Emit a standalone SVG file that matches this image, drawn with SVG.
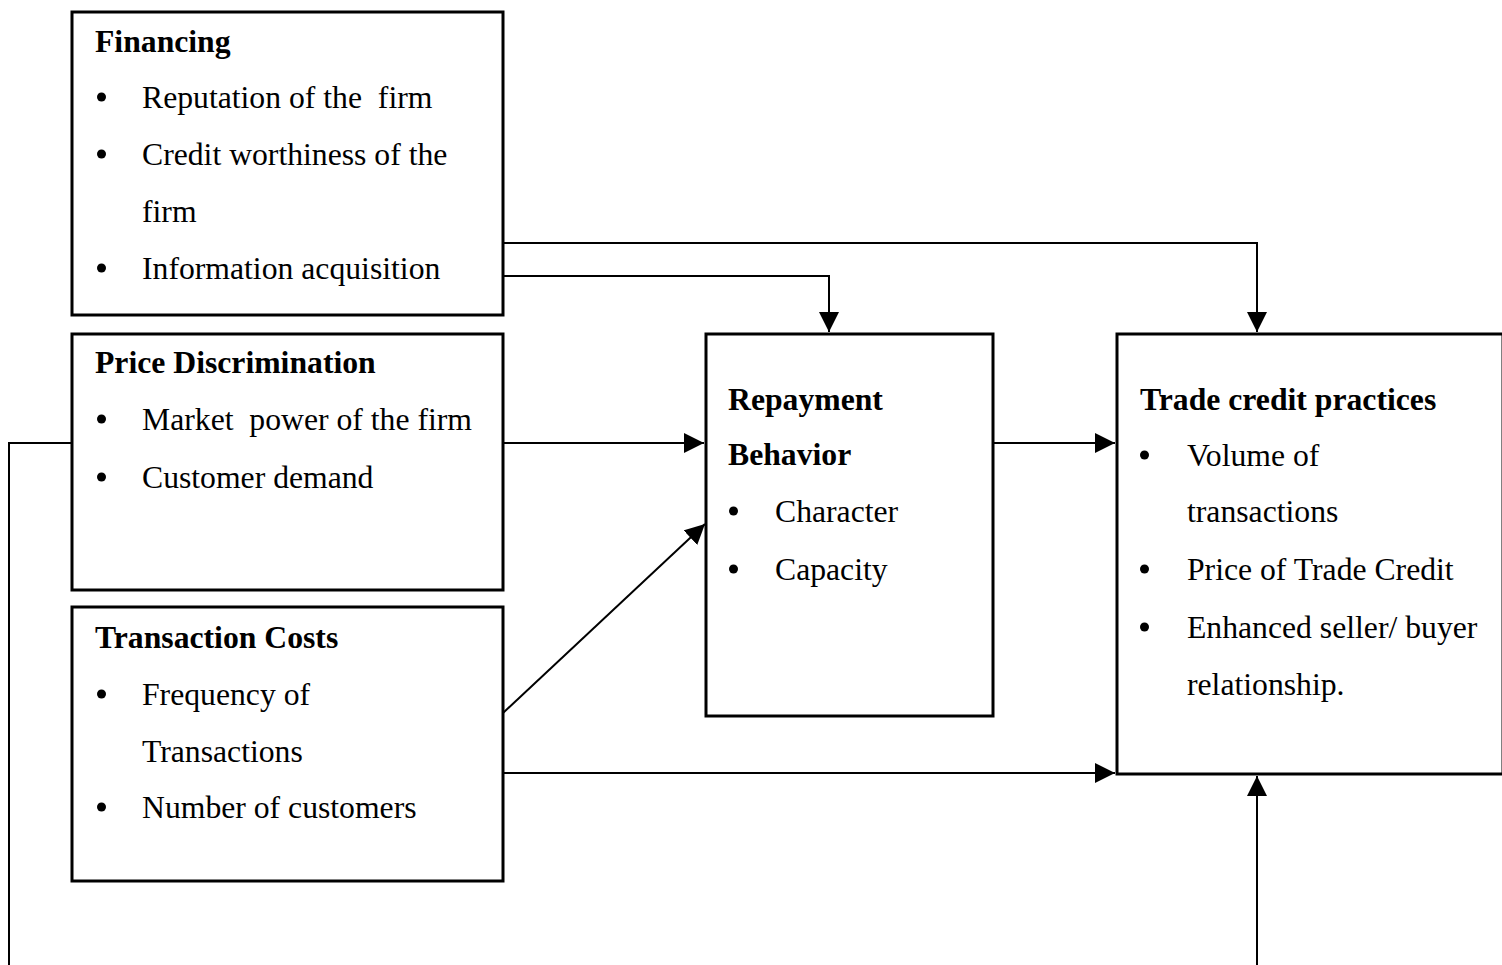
<svg xmlns="http://www.w3.org/2000/svg" width="1502" height="965" viewBox="0 0 1502 965">
<style>
.box{fill:#fff;stroke:#000;stroke-width:3}
.t{font-family:"Liberation Serif","Times New Roman",serif;font-size:31.7px;fill:#000}
.b{font-weight:bold}
.c{fill:none;stroke:#000;stroke-width:2}
.dot{fill:#000}
</style>
<defs>
<marker id="ah2" viewBox="0 0 20 20" refX="20" refY="10" markerWidth="20" markerHeight="20" markerUnits="userSpaceOnUse" orient="auto">
<path d="M0,0 L20,10 L0,20 z" fill="#000"/>
</marker>
</defs>
<rect width="1502" height="965" fill="#fff"/>
<g id="connectors">
<path class="c" d="M503,243 H1257 V332" marker-end="url(#ah2)"/>
<path class="c" d="M503,276 H829 V332" marker-end="url(#ah2)"/>
<path class="c" d="M503,443 H704" marker-end="url(#ah2)"/>
<path class="c" d="M72,443 H9 V965"/>
<path class="c" d="M503,713 L705,524" marker-end="url(#ah2)"/>
<path class="c" d="M993,443 H1115" marker-end="url(#ah2)"/>
<path class="c" d="M503,773 H1115" marker-end="url(#ah2)"/>
<path class="c" d="M1257,965 V776" marker-end="url(#ah2)"/>
</g>
<g id="financing">
<rect class="box" x="72" y="12" width="431" height="303"/>
<text class="t b" x="95" y="52">Financing</text>
<circle class="dot" cx="101.5" cy="97" r="4.5"/><text class="t" x="142" y="108" xml:space="preserve">Reputation of the  firm</text>
<circle class="dot" cx="101.5" cy="154" r="4.5"/><text class="t" x="142" y="165">Credit worthiness of the</text>
<text class="t" x="142" y="222">firm</text>
<circle class="dot" cx="101.5" cy="268" r="4.5"/><text class="t" x="142" y="279">Information acquisition</text>
</g>
<g id="price">
<rect class="box" x="72" y="334" width="431" height="256"/>
<text class="t b" x="95" y="373">Price Discrimination</text>
<circle class="dot" cx="101.5" cy="419" r="4.5"/><text class="t" x="142" y="430" xml:space="preserve">Market  power of the firm</text>
<circle class="dot" cx="101.5" cy="477" r="4.5"/><text class="t" x="142" y="488">Customer demand</text>
</g>
<g id="transaction">
<rect class="box" x="72" y="607" width="431" height="274"/>
<text class="t b" x="95" y="648">Transaction Costs</text>
<circle class="dot" cx="101.5" cy="694" r="4.5"/><text class="t" x="142" y="705">Frequency of</text>
<text class="t" x="142" y="762">Transactions</text>
<circle class="dot" cx="101.5" cy="807" r="4.5"/><text class="t" x="142" y="818">Number of customers</text>
</g>
<g id="repayment">
<rect class="box" x="706" y="334" width="287" height="382"/>
<text class="t b" x="728" y="410">Repayment</text>
<text class="t b" x="728" y="465">Behavior</text>
<circle class="dot" cx="733.5" cy="511" r="4.5"/><text class="t" x="775" y="522">Character</text>
<circle class="dot" cx="733.5" cy="569" r="4.5"/><text class="t" x="775" y="580">Capacity</text>
</g>
<g id="trade">
<rect class="box" x="1117" y="334" width="386" height="440"/>
<text class="t b" x="1140" y="410">Trade credit practices</text>
<circle class="dot" cx="1144.5" cy="455" r="4.5"/><text class="t" x="1187" y="466">Volume of</text>
<text class="t" x="1187" y="522">transactions</text>
<circle class="dot" cx="1144.5" cy="569" r="4.5"/><text class="t" x="1187" y="580">Price of Trade Credit</text>
<circle class="dot" cx="1144.5" cy="627" r="4.5"/><text class="t" x="1187" y="638">Enhanced seller/ buyer</text>
<text class="t" x="1187" y="695">relationship.</text>
</g>
</svg>
